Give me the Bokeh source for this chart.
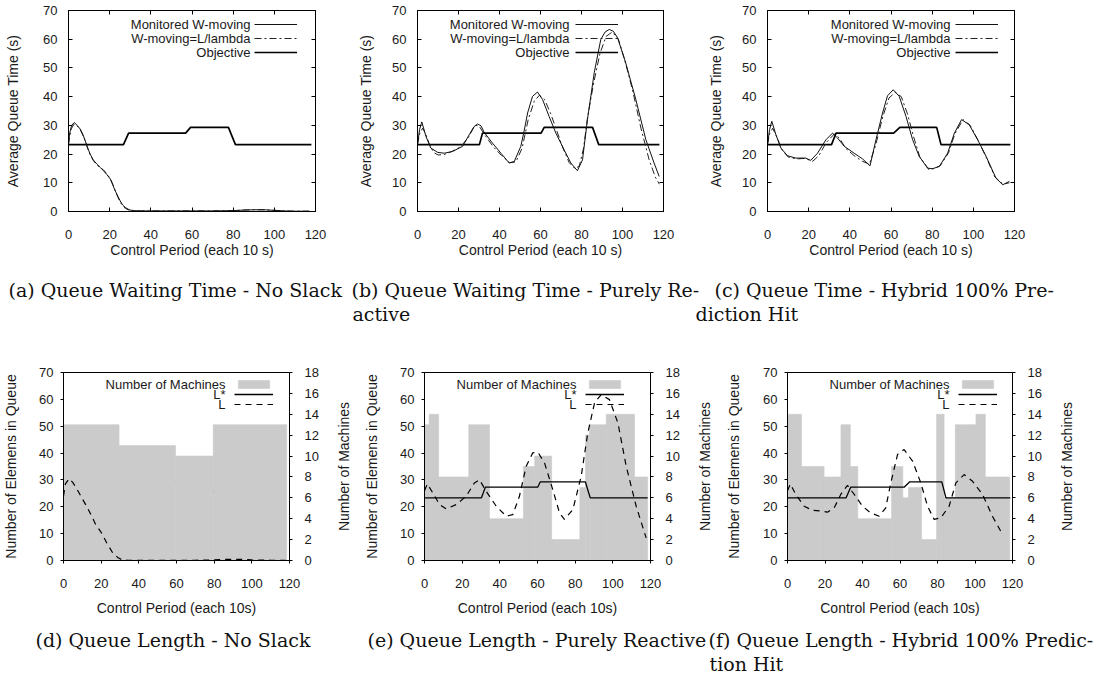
import math
from bokeh.plotting import figure
from bokeh.models import (Range1d, LinearAxis, Legend, LegendItem, Label,
                          FixedTicker, CustomJSTickFormatter)
from bokeh.layouts import column, row
from bokeh.core.properties import value
from bokeh.embed import file_html
from bokeh.resources import INLINE

# ---------------- data ----------------
x_ticks = [0, 20, 40, 60, 80, 100, 120]
q_ticks = [0, 10, 20, 30, 40, 50, 60, 70]
m_ticks = [0, 2, 4, 6, 8, 10, 12, 14, 16, 18]

# objective / L* levels
obj_levels = [23.3, 23.3, 27.3, 27.3, 29.3, 29.3, 23.3, 23.3]
a_obj_x = [0, 26.7, 29.2, 56.9, 59.3, 77.7, 81.1, 118]
b_obj_x = [0, 30.2, 31.7, 60.3, 61.8, 85.4, 88.4, 118]
c_obj_x = [0, 31.1, 33.3, 61.3, 64.3, 82.2, 84.3, 118]
e_lstar_x = [0, 30.2, 32.3, 60.1, 61.5, 85.4, 88.0, 118.5]
f_lstar_x = [0, 31.2, 33.7, 62.2, 65.2, 82.3, 84.5, 118.8]

# (a) No slack
a_x = [0, 0.5, 1.5, 2.8, 4.2, 5.7, 7, 8.1, 9.3, 10.5, 12, 13.8, 15.5, 17, 18.7, 20.3, 21.5,
       22.7, 24, 25.1, 26.3, 27.6, 29, 30, 32, 35, 40, 50, 60, 70, 80, 85, 90, 95, 100, 105, 110, 117]
a_mon = [23.3, 27, 30, 31, 30, 28.7, 26.8, 24.7, 22.2, 20, 18, 16.5, 15.3, 14.2, 12.8, 11.3, 9.3,
         7.2, 5.3, 3.7, 2.3, 1.4, 0.8, 0.5, 0.3, 0.2, 0.2, 0.2, 0.2, 0.2, 0.3, 0.5, 0.6, 0.6, 0.4, 0.2, 0.1, 0.1]
a_est = [23.3, 26, 29, 30.5, 29.8, 28.5, 26.5, 24.5, 22, 19.8, 17.8, 16.2, 15.2, 14.5, 13, 11.5, 9.5,
         7.2, 5, 3.3, 2, 1.1, 0.6, 0.4, 0.3, 0.2, 0.2, 0.2, 0.2, 0.2, 0.3, 0.5, 0.6, 0.6, 0.4, 0.2, 0.1, 0.1]

# (b) Purely reactive
b_mon_x = [0, 1, 2.1, 4.1, 6.5, 9.8, 13, 17.1, 22, 25.2, 27.5, 29.3, 31, 32.5, 36.6, 40.7, 44.7, 47.2,
           50.4, 52, 53.7, 56.1, 58.5, 61, 64.2, 67.5, 71.5, 74.8, 78, 80.5, 82.9, 86.2, 89.4, 91.5,
           93.5, 95.5, 97.6, 101.6, 106.5, 111.4, 115.4, 117.9]
b_mon = [23.3, 28.5, 31.2, 26.2, 22.1, 20.6, 20.3, 20.9, 22.7, 26.7, 29.5, 30.5, 29.8, 27.6, 23.8, 20.3,
         16.9, 17.4, 22.7, 28, 34.3, 40.1, 41.6, 39, 33.1, 27.3, 21.5, 16.9, 14.2, 18, 32, 48.3, 59.9,
         62.5, 63.4, 62.8, 60.5, 51.7, 39, 25, 16.9, 12.2]
b_est_x = [0, 1, 2.5, 4, 6, 8, 10, 13, 17, 21, 25, 28, 30, 33, 37, 41, 45, 48, 51, 54, 57, 59.5, 62,
           65, 68, 71, 74, 77, 79, 81, 83, 86, 89, 92, 95, 98, 101, 105, 109, 113, 116, 118]
b_est = [23.3, 27, 29, 27, 23, 20.5, 19.7, 19.8, 21, 22.5, 26, 30, 29.8, 26.5, 22.5, 19.5, 17, 17.3,
         22, 32, 38.5, 40.5, 39, 34, 28, 22, 17, 14.8, 16, 22, 33, 45, 55, 61, 62.5, 60, 53, 42, 29,
         18, 12, 9.5]

# (c) Hybrid 100% prediction hit
c_mon_x = [0, 1, 2.1, 4.1, 6.5, 9.7, 13.8, 18.6, 21, 24.3, 28.4, 31.6, 34, 37.3, 42.1, 46.2, 49.8,
           52.7, 55.9, 58.3, 61.1, 64, 67.3, 70.5, 73.7, 77.8, 80.2, 83.5, 87.5, 90.8, 94.3, 98,
           102.1, 106.2, 111, 114.3, 117.5]
c_mon = [23.3, 28.5, 31.4, 26.7, 22.1, 19.4, 18.6, 18.6, 17.8, 20.3, 25, 27.3, 25.6, 22.7, 20.3,
         18.3, 15.9, 25, 34.3, 40.3, 42.4, 40.1, 33.1, 25, 19.2, 15.1, 14.9, 15.7, 20.3, 27.3, 32,
         30.2, 25, 19.2, 11.6, 9.3, 10.5]
c_est_x = [0, 1, 2.5, 4.5, 7, 10, 14, 18, 22, 25, 28.5, 32.5, 35, 38, 42, 46, 49.5, 52.5, 56, 59,
           62, 65, 68, 71, 74, 78.5, 81, 84, 88, 91, 95, 98.5, 102.5, 106.5, 110.5, 114.5, 117.5]
c_est = [23.3, 27, 29, 26, 21.5, 19, 18.3, 18.5, 17.5, 19.5, 24, 27, 25.5, 22, 19.5, 17.5, 16.5,
         23, 33, 39.5, 41.5, 40, 34, 26, 19, 14.5, 15, 16, 20.5, 27, 32, 30, 24.5, 18.5, 12, 9.5, 10]

# (d)-(f) number of machines (piecewise constant over control periods)
d_edges = [0, 29.5, 59.5, 79.5, 118.5]
d_machines = [13, 11, 10, 13]
e_edges = [0, 2.5, 7.5, 23.5, 34.5, 52.5, 58.5, 67.5, 82.5, 85.5, 87.5, 96.5, 111.5, 118.5]
e_machines = [13, 14, 8, 13, 4, 9, 10, 2, 7, 12, 13, 14, 8]
f_edges = [0, 7.5, 19.5, 28.5, 33.5, 37.5, 55.5, 61.5, 64.5, 71.5, 79.5, 83.5, 89.5, 100.5,
           105.5, 118.5]
f_machines = [14, 9, 8, 13, 9, 4, 9, 6, 7, 2, 14, 6, 13, 14, 8]

# queue length L
d_L_x = [0, 1, 3, 5, 8, 12, 15, 17, 20, 23, 26, 29, 31, 34, 40, 50, 60, 70, 80, 85, 90, 95, 100, 110, 118]
d_L = [24, 28.5, 30.5, 29, 25.5, 20.5, 16.5, 13.5, 10.5, 6.5, 3, 1, 0.3, 0.1, 0.1, 0.1, 0.1, 0.1,
       0.2, 0.4, 0.4, 0.4, 0.2, 0.1, 0.1]
e_L_x = [0, 1.5, 4.4, 8, 11.5, 16.8, 22.1, 26.5, 29.2, 32.7, 38.1, 43.4, 46.9, 50.4, 54, 57.5, 60.2,
         63.7, 68.1, 71.7, 74.3, 78.8, 83.2, 86.7, 90.3, 93.8, 98.2, 102.7, 107.1, 112.4, 117.7]
e_L = [26, 28.5, 25.2, 20.8, 19.2, 20.8, 23.9, 28.9, 30.1, 25.8, 20.2, 16.5, 17.1, 23.9, 35.1, 40.1,
       40.3, 36.4, 26.4, 17.7, 15.3, 19, 31.4, 47.5, 58.7, 61.8, 59.9, 51.2, 35.1, 20.2, 8.4]
f_L_x = [0, 1.5, 4.4, 8.9, 13.3, 17.8, 21.3, 24.9, 28.4, 32, 35.6, 40, 44.4, 48.9, 52.4, 55.1, 58.7,
         62.2, 66.7, 71.1, 74.7, 78.2, 81.8, 86.2, 89.8, 94.2, 98.7, 104, 109.3, 114.7]
f_L = [26, 28.5, 24.6, 20.2, 18.7, 18.4, 18, 19.6, 24.6, 28, 24.6, 20.2, 17.7, 16.5, 19.6, 28.9,
       39.5, 41.3, 37, 28.9, 20.2, 15.3, 15.9, 20.2, 28.9, 32, 29.5, 24.6, 16.5, 9.7]

top_legend = ["Monitored W-moving", "W-moving=L/lambda", "Objective"]
bot_legend = ["Number of Machines", "L*", "L"]
right_axis_title = "Number of Machines"
captions_top = ["(a) Queue Waiting Time - No Slack", "(b) Queue Waiting Time - Purely Re-", "active",
                "(c) Queue Time - Hybrid 100% Pre-", "diction Hit"]
captions_bot = ["(d) Queue Length - No Slack", "(e) Queue Length - Purely Reactive",
                "(f) Queue Length - Hybrid 100% Predic-", "tion Hit"]

# ---------------- style ----------------
SANS = "Liberation Sans"
SERIF = "DejaVu Serif"
TXT = "#1a1a1a"
GRAY = "#cbcbcb"


def style_axis(ax, tin, tout, lstand, astand):
    ax.major_tick_in = tin
    ax.major_tick_out = tout
    ax.minor_tick_line_color = None
    ax.major_label_standoff = lstand
    ax.axis_label_standoff = astand
    ax.major_label_text_font = SANS
    ax.major_label_text_font_size = "13px"
    ax.major_label_text_color = TXT
    ax.axis_label_text_font = SANS
    ax.axis_label_text_font_size = "14px"
    ax.axis_label_text_font_style = "normal"
    ax.axis_label_text_color = TXT
    ax.axis_line_color = "black"
    ax.major_tick_line_color = "black"


def base_fig(fw, fh, left, right, top, bottom):
    p = figure(frame_width=fw, frame_height=fh, x_range=Range1d(0, 120), y_range=Range1d(0, 70),
               output_backend="svg", toolbar_location=None,
               min_border_left=left, min_border_right=right,
               min_border_top=top, min_border_bottom=bottom)
    p.grid.visible = False
    p.outline_line_color = "black"
    p.outline_line_alpha = 1
    p.outline_line_width = 1
    p.xaxis.ticker = FixedTicker(ticks=x_ticks)
    p.yaxis.ticker = FixedTicker(ticks=q_ticks)
    return p


def blank_fig(w, h):
    c = figure(width=w, height=h, x_range=Range1d(0, 1), y_range=Range1d(0, 1),
               output_backend="svg", toolbar_location=None, min_border=0,
               x_axis_location=None, y_axis_location=None)
    c.outline_line_color = None
    c.grid.visible = False
    return c


def sample_legend(p, renderers, vx, vy, gw, gh):
    items = [LegendItem(label=value(""), renderers=[r]) for r in renderers]
    lg = Legend(items=items, location=(vx, vy), glyph_width=gw, glyph_height=gh, spacing=0,
                padding=0, margin=0, label_standoff=0, label_width=0, label_height=0,
                label_text_font_size="1px", background_fill_alpha=0, border_line_alpha=0)
    p.add_layout(lg)


def legend_texts(p, texts, x_right, ys):
    for t, y in zip(texts, ys):
        p.add_layout(Label(x=x_right, y=y, x_units="screen", y_units="screen", text=t,
                           text_align="right", text_baseline="middle", text_font=SANS,
                           text_font_size="13px", text_color=TXT))


def top_panel(fw, left, right, ylab_stand, mon_x, mon_y, est_x, est_y, obj_x, leg_x, txt_r):
    p = base_fig(fw, 201, left, right, 10, 61)
    p.xaxis.axis_label = "Control Period (each 10 s)"
    p.yaxis.axis_label = "Average Queue Time (s)"
    style_axis(p.xaxis[0], 4, 0, 18, 0)
    style_axis(p.yaxis[0], 4, 0, 11, ylab_stand)
    for place, ticks in (("above", x_ticks), ("right", q_ticks)):
        ax = LinearAxis(ticker=FixedTicker(ticks=ticks),
                        formatter=CustomJSTickFormatter(code="return ''"))
        ax.major_tick_in = 4
        ax.major_tick_out = 0
        ax.minor_tick_line_color = None
        ax.major_label_standoff = 0
        ax.major_label_text_font_size = "1px"
        ax.axis_line_color = "black"
        p.add_layout(ax, place)
    r_obj = p.line(obj_x, obj_levels, line_color="black", line_width=1.7)
    r_est = p.line(est_x, est_y, line_color="#222222", line_width=1, line_dash="7 3 2 3")
    r_mon = p.line(mon_x, mon_y, line_color="#111111", line_width=1)
    sample_legend(p, [r_mon, r_est, r_obj], leg_x, 152, 43, 14)
    legend_texts(p, top_legend, txt_r, [187, 173, 159])
    return p


def bottom_panel(fw, left, right, ylab_stand, edges, machines, lstar_x, L_x, L_y, leg_x, txt_r,
                 lstar_under=False):
    p = base_fig(fw, 188, left, right, 38, 58)
    p.extra_y_ranges = {"machines": Range1d(0, 18)}
    p.xaxis.axis_label = "Control Period (each 10s)"
    p.yaxis.axis_label = "Number of Elemens in Queue"
    style_axis(p.xaxis[0], 0, 3, 15, 9)
    style_axis(p.yaxis[0], 0, 3, 7, ylab_stand)
    rax = LinearAxis(y_range_name="machines", ticker=FixedTicker(ticks=m_ticks))
    style_axis(rax, 0, 3, 12, 0)
    p.add_layout(rax, "right")
    r_star = None
    if lstar_under:
        r_star = p.line(lstar_x, obj_levels, line_color="black", line_width=1.3)
    r_bar = p.quad(left=edges[:-1], right=edges[1:], bottom=0, top=machines,
                   y_range_name="machines", fill_color=GRAY, line_color=GRAY, line_width=0.6)
    if not lstar_under:
        r_star = p.line(lstar_x, obj_levels, line_color="black", line_width=1.3)
    r_L = p.line(L_x, L_y, line_color="black", line_width=1.2, line_dash="6 5")
    sample_legend(p, [r_bar, r_star, r_L], leg_x, 151, 39, 10)
    legend_texts(p, bot_legend, txt_r, [176, 166, 156])
    return p


def right_title_fig(w):
    # narrow companion figure whose (tick-less) axis carries the right-hand axis title,
    # so that it reads bottom-to-top like the reference
    c = figure(frame_width=1, frame_height=188, x_range=Range1d(0, 1), y_range=Range1d(0, 18),
               output_backend="svg", toolbar_location=None, x_axis_location=None,
               min_border_left=30, min_border_right=w - 31, min_border_top=38,
               min_border_bottom=58)
    c.outline_line_color = None
    c.grid.visible = False
    ax = c.yaxis[0]
    ax.ticker = FixedTicker(ticks=[])
    ax.axis_line_color = None
    ax.major_tick_line_color = None
    ax.minor_tick_line_color = None
    ax.major_tick_out = 0
    ax.minor_tick_out = 0
    ax.major_label_standoff = 0
    ax.axis_label = right_axis_title
    ax.axis_label_standoff = 0
    ax.axis_label_text_font = SANS
    ax.axis_label_text_font_size = "14px"
    ax.axis_label_text_font_style = "normal"
    ax.axis_label_text_color = TXT
    return c


def caption_fig(h, items):
    c = blank_fig(1101, h)
    for t, x, y in items:
        c.add_layout(Label(x=x, y=y, x_units="screen", y_units="screen", text=t,
                           text_align="left", text_baseline="middle", text_font=SERIF,
                           text_font_size="19px", text_color="#111111"))
    return c


pa = top_panel(247, 68, 40, 19, a_x, a_mon, a_x, a_est, a_obj_x, 186, 182)
pb = top_panel(246, 58, 42, 15, b_mon_x, b_mon, b_est_x, b_est, b_obj_x, 158, 152)
pc = top_panel(247, 58, 95, 15, c_mon_x, c_mon, c_est_x, c_est, c_obj_x, 188, 183)

pd = bottom_panel(226, 57, 31, 17, d_edges, d_machines, a_obj_x, d_L_x, d_L, 171, 162, lstar_under=True)
rd = right_title_fig(31)
pe = bottom_panel(226, 72, 30, 17, e_edges, e_machines, e_lstar_x, e_L_x, e_L, 161, 152)
re_ = right_title_fig(31)
pf = bottom_panel(225, 74, 30, 18, f_edges, f_machines, f_lstar_x, f_L_x, f_L, 171, 162)
rf = right_title_fig(68)

cap1 = caption_fig(62, [(captions_top[0], 8, 44.6), (captions_top[1], 351, 44.6),
                        (captions_top[2], 352, 20.6), (captions_top[3], 714, 44.6),
                        (captions_top[4], 695, 20.6)])
cap2 = caption_fig(59, [(captions_bot[0], 35, 37.6), (captions_bot[1], 367, 37.6),
                        (captions_bot[2], 708, 37.6), (captions_bot[3], 709, 13.6)])

layout = column(row(pa, pb, pc), cap1, row(pd, rd, pe, re_, pf, rf), cap2)

open("out.html", "w").write(file_html(layout, INLINE))
